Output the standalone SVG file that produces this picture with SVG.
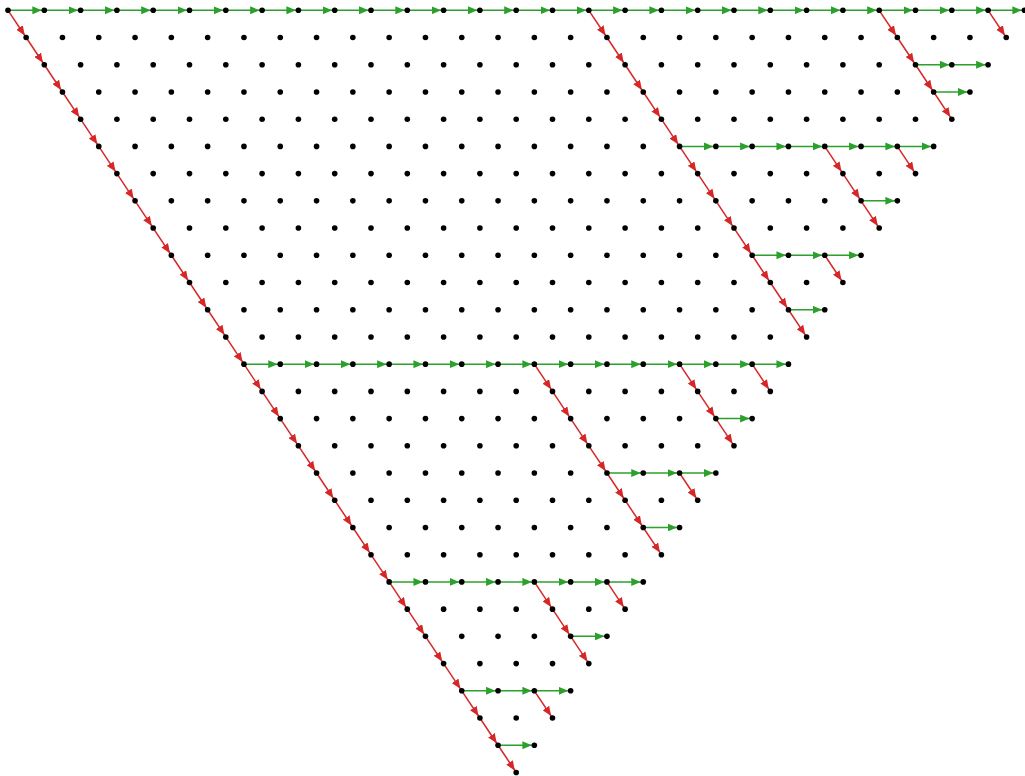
<svg xmlns="http://www.w3.org/2000/svg" width="1025" height="776" viewBox="0 0 1025 776">
<style>
.g{stroke:#2ca02c;stroke-width:1.5;marker-end:url(#ag)}
.r{stroke:#d62728;stroke-width:1.5;marker-end:url(#ar)}
#nodes circle{fill:#000}
</style>
<defs>
<marker id="ag" viewBox="0 0 12 8" refX="12" refY="4" markerWidth="12" markerHeight="8" orient="auto" markerUnits="userSpaceOnUse"><path d="M0 0L9.5 4L0 8z" fill="#2ca02c"/></marker>
<marker id="ar" viewBox="0 0 12 8" refX="12" refY="4" markerWidth="12" markerHeight="8" orient="auto" markerUnits="userSpaceOnUse"><path d="M0 0L9.5 4L0 8z" fill="#d62728"/></marker>
</defs>
<rect width="1025" height="776" fill="#fff"/>
<g id="connectors">
<line class="g" x1="8" y1="10.3" x2="44.3" y2="10.3"/>
<line class="g" x1="44.3" y1="10.3" x2="80.6" y2="10.3"/>
<line class="g" x1="80.6" y1="10.3" x2="116.9" y2="10.3"/>
<line class="g" x1="116.9" y1="10.3" x2="153.2" y2="10.3"/>
<line class="g" x1="153.2" y1="10.3" x2="189.5" y2="10.3"/>
<line class="g" x1="189.5" y1="10.3" x2="225.8" y2="10.3"/>
<line class="g" x1="225.8" y1="10.3" x2="262.1" y2="10.3"/>
<line class="g" x1="262.1" y1="10.3" x2="298.4" y2="10.3"/>
<line class="g" x1="298.4" y1="10.3" x2="334.7" y2="10.3"/>
<line class="g" x1="334.7" y1="10.3" x2="371" y2="10.3"/>
<line class="g" x1="371" y1="10.3" x2="407.3" y2="10.3"/>
<line class="g" x1="407.3" y1="10.3" x2="443.6" y2="10.3"/>
<line class="g" x1="443.6" y1="10.3" x2="479.9" y2="10.3"/>
<line class="g" x1="479.9" y1="10.3" x2="516.2" y2="10.3"/>
<line class="g" x1="516.2" y1="10.3" x2="552.5" y2="10.3"/>
<line class="g" x1="552.5" y1="10.3" x2="588.8" y2="10.3"/>
<line class="g" x1="588.8" y1="10.3" x2="625.1" y2="10.3"/>
<line class="g" x1="625.1" y1="10.3" x2="661.4" y2="10.3"/>
<line class="g" x1="661.4" y1="10.3" x2="697.7" y2="10.3"/>
<line class="g" x1="697.7" y1="10.3" x2="734" y2="10.3"/>
<line class="g" x1="734" y1="10.3" x2="770.3" y2="10.3"/>
<line class="g" x1="770.3" y1="10.3" x2="806.6" y2="10.3"/>
<line class="g" x1="806.6" y1="10.3" x2="842.9" y2="10.3"/>
<line class="g" x1="842.9" y1="10.3" x2="879.2" y2="10.3"/>
<line class="g" x1="879.2" y1="10.3" x2="915.5" y2="10.3"/>
<line class="g" x1="915.5" y1="10.3" x2="951.8" y2="10.3"/>
<line class="g" x1="951.8" y1="10.3" x2="988.1" y2="10.3"/>
<line class="g" x1="988.1" y1="10.3" x2="1024.4" y2="10.3"/>
<line class="g" x1="243.95" y1="364.16" x2="280.25" y2="364.16"/>
<line class="g" x1="280.25" y1="364.16" x2="316.55" y2="364.16"/>
<line class="g" x1="316.55" y1="364.16" x2="352.85" y2="364.16"/>
<line class="g" x1="352.85" y1="364.16" x2="389.15" y2="364.16"/>
<line class="g" x1="389.15" y1="364.16" x2="425.45" y2="364.16"/>
<line class="g" x1="425.45" y1="364.16" x2="461.75" y2="364.16"/>
<line class="g" x1="461.75" y1="364.16" x2="498.05" y2="364.16"/>
<line class="g" x1="498.05" y1="364.16" x2="534.35" y2="364.16"/>
<line class="g" x1="534.35" y1="364.16" x2="570.65" y2="364.16"/>
<line class="g" x1="570.65" y1="364.16" x2="606.95" y2="364.16"/>
<line class="g" x1="606.95" y1="364.16" x2="643.25" y2="364.16"/>
<line class="g" x1="643.25" y1="364.16" x2="679.55" y2="364.16"/>
<line class="g" x1="679.55" y1="364.16" x2="715.85" y2="364.16"/>
<line class="g" x1="715.85" y1="364.16" x2="752.15" y2="364.16"/>
<line class="g" x1="752.15" y1="364.16" x2="788.45" y2="364.16"/>
<line class="g" x1="389.15" y1="581.92" x2="425.45" y2="581.92"/>
<line class="g" x1="425.45" y1="581.92" x2="461.75" y2="581.92"/>
<line class="g" x1="461.75" y1="581.92" x2="498.05" y2="581.92"/>
<line class="g" x1="498.05" y1="581.92" x2="534.35" y2="581.92"/>
<line class="g" x1="534.35" y1="581.92" x2="570.65" y2="581.92"/>
<line class="g" x1="570.65" y1="581.92" x2="606.95" y2="581.92"/>
<line class="g" x1="606.95" y1="581.92" x2="643.25" y2="581.92"/>
<line class="g" x1="461.75" y1="690.8" x2="498.05" y2="690.8"/>
<line class="g" x1="498.05" y1="690.8" x2="534.35" y2="690.8"/>
<line class="g" x1="534.35" y1="690.8" x2="570.65" y2="690.8"/>
<line class="g" x1="498.05" y1="745.24" x2="534.35" y2="745.24"/>
<line class="g" x1="570.65" y1="636.36" x2="606.95" y2="636.36"/>
<line class="g" x1="606.95" y1="473.04" x2="643.25" y2="473.04"/>
<line class="g" x1="643.25" y1="473.04" x2="679.55" y2="473.04"/>
<line class="g" x1="679.55" y1="473.04" x2="715.85" y2="473.04"/>
<line class="g" x1="643.25" y1="527.48" x2="679.55" y2="527.48"/>
<line class="g" x1="715.85" y1="418.6" x2="752.15" y2="418.6"/>
<line class="g" x1="679.55" y1="146.4" x2="715.85" y2="146.4"/>
<line class="g" x1="715.85" y1="146.4" x2="752.15" y2="146.4"/>
<line class="g" x1="752.15" y1="146.4" x2="788.45" y2="146.4"/>
<line class="g" x1="788.45" y1="146.4" x2="824.75" y2="146.4"/>
<line class="g" x1="824.75" y1="146.4" x2="861.05" y2="146.4"/>
<line class="g" x1="861.05" y1="146.4" x2="897.35" y2="146.4"/>
<line class="g" x1="897.35" y1="146.4" x2="933.65" y2="146.4"/>
<line class="g" x1="752.15" y1="255.28" x2="788.45" y2="255.28"/>
<line class="g" x1="788.45" y1="255.28" x2="824.75" y2="255.28"/>
<line class="g" x1="824.75" y1="255.28" x2="861.05" y2="255.28"/>
<line class="g" x1="788.45" y1="309.72" x2="824.75" y2="309.72"/>
<line class="g" x1="861.05" y1="200.84" x2="897.35" y2="200.84"/>
<line class="g" x1="915.5" y1="64.74" x2="951.8" y2="64.74"/>
<line class="g" x1="951.8" y1="64.74" x2="988.1" y2="64.74"/>
<line class="g" x1="933.65" y1="91.96" x2="969.95" y2="91.96"/>
<line class="r" x1="8" y1="10.3" x2="26.15" y2="37.52"/>
<line class="r" x1="26.15" y1="37.52" x2="44.3" y2="64.74"/>
<line class="r" x1="44.3" y1="64.74" x2="62.45" y2="91.96"/>
<line class="r" x1="62.45" y1="91.96" x2="80.6" y2="119.18"/>
<line class="r" x1="80.6" y1="119.18" x2="98.75" y2="146.4"/>
<line class="r" x1="98.75" y1="146.4" x2="116.9" y2="173.62"/>
<line class="r" x1="116.9" y1="173.62" x2="135.05" y2="200.84"/>
<line class="r" x1="135.05" y1="200.84" x2="153.2" y2="228.06"/>
<line class="r" x1="153.2" y1="228.06" x2="171.35" y2="255.28"/>
<line class="r" x1="171.35" y1="255.28" x2="189.5" y2="282.5"/>
<line class="r" x1="189.5" y1="282.5" x2="207.65" y2="309.72"/>
<line class="r" x1="207.65" y1="309.72" x2="225.8" y2="336.94"/>
<line class="r" x1="225.8" y1="336.94" x2="243.95" y2="364.16"/>
<line class="r" x1="243.95" y1="364.16" x2="262.1" y2="391.38"/>
<line class="r" x1="262.1" y1="391.38" x2="280.25" y2="418.6"/>
<line class="r" x1="280.25" y1="418.6" x2="298.4" y2="445.82"/>
<line class="r" x1="298.4" y1="445.82" x2="316.55" y2="473.04"/>
<line class="r" x1="316.55" y1="473.04" x2="334.7" y2="500.26"/>
<line class="r" x1="334.7" y1="500.26" x2="352.85" y2="527.48"/>
<line class="r" x1="352.85" y1="527.48" x2="371" y2="554.7"/>
<line class="r" x1="371" y1="554.7" x2="389.15" y2="581.92"/>
<line class="r" x1="389.15" y1="581.92" x2="407.3" y2="609.14"/>
<line class="r" x1="407.3" y1="609.14" x2="425.45" y2="636.36"/>
<line class="r" x1="425.45" y1="636.36" x2="443.6" y2="663.58"/>
<line class="r" x1="443.6" y1="663.58" x2="461.75" y2="690.8"/>
<line class="r" x1="461.75" y1="690.8" x2="479.9" y2="718.02"/>
<line class="r" x1="479.9" y1="718.02" x2="498.05" y2="745.24"/>
<line class="r" x1="498.05" y1="745.24" x2="516.2" y2="772.46"/>
<line class="r" x1="534.35" y1="690.8" x2="552.5" y2="718.02"/>
<line class="r" x1="534.35" y1="581.92" x2="552.5" y2="609.14"/>
<line class="r" x1="552.5" y1="609.14" x2="570.65" y2="636.36"/>
<line class="r" x1="570.65" y1="636.36" x2="588.8" y2="663.58"/>
<line class="r" x1="606.95" y1="581.92" x2="625.1" y2="609.14"/>
<line class="r" x1="534.35" y1="364.16" x2="552.5" y2="391.38"/>
<line class="r" x1="552.5" y1="391.38" x2="570.65" y2="418.6"/>
<line class="r" x1="570.65" y1="418.6" x2="588.8" y2="445.82"/>
<line class="r" x1="588.8" y1="445.82" x2="606.95" y2="473.04"/>
<line class="r" x1="606.95" y1="473.04" x2="625.1" y2="500.26"/>
<line class="r" x1="625.1" y1="500.26" x2="643.25" y2="527.48"/>
<line class="r" x1="643.25" y1="527.48" x2="661.4" y2="554.7"/>
<line class="r" x1="679.55" y1="473.04" x2="697.7" y2="500.26"/>
<line class="r" x1="679.55" y1="364.16" x2="697.7" y2="391.38"/>
<line class="r" x1="697.7" y1="391.38" x2="715.85" y2="418.6"/>
<line class="r" x1="715.85" y1="418.6" x2="734" y2="445.82"/>
<line class="r" x1="752.15" y1="364.16" x2="770.3" y2="391.38"/>
<line class="r" x1="588.8" y1="10.3" x2="606.95" y2="37.52"/>
<line class="r" x1="606.95" y1="37.52" x2="625.1" y2="64.74"/>
<line class="r" x1="625.1" y1="64.74" x2="643.25" y2="91.96"/>
<line class="r" x1="643.25" y1="91.96" x2="661.4" y2="119.18"/>
<line class="r" x1="661.4" y1="119.18" x2="679.55" y2="146.4"/>
<line class="r" x1="679.55" y1="146.4" x2="697.7" y2="173.62"/>
<line class="r" x1="697.7" y1="173.62" x2="715.85" y2="200.84"/>
<line class="r" x1="715.85" y1="200.84" x2="734" y2="228.06"/>
<line class="r" x1="734" y1="228.06" x2="752.15" y2="255.28"/>
<line class="r" x1="752.15" y1="255.28" x2="770.3" y2="282.5"/>
<line class="r" x1="770.3" y1="282.5" x2="788.45" y2="309.72"/>
<line class="r" x1="788.45" y1="309.72" x2="806.6" y2="336.94"/>
<line class="r" x1="824.75" y1="255.28" x2="842.9" y2="282.5"/>
<line class="r" x1="824.75" y1="146.4" x2="842.9" y2="173.62"/>
<line class="r" x1="842.9" y1="173.62" x2="861.05" y2="200.84"/>
<line class="r" x1="861.05" y1="200.84" x2="879.2" y2="228.06"/>
<line class="r" x1="897.35" y1="146.4" x2="915.5" y2="173.62"/>
<line class="r" x1="879.2" y1="10.3" x2="897.35" y2="37.52"/>
<line class="r" x1="897.35" y1="37.52" x2="915.5" y2="64.74"/>
<line class="r" x1="915.5" y1="64.74" x2="933.65" y2="91.96"/>
<line class="r" x1="933.65" y1="91.96" x2="951.8" y2="119.18"/>
<line class="r" x1="988.1" y1="10.3" x2="1006.25" y2="37.52"/>
</g>
<g id="nodes">
<g id="n0-0"><circle cx="8" cy="10.3" r="2.8"/></g>
<g id="n0-1"><circle cx="44.3" cy="10.3" r="2.8"/></g>
<g id="n0-2"><circle cx="80.6" cy="10.3" r="2.8"/></g>
<g id="n0-3"><circle cx="116.9" cy="10.3" r="2.8"/></g>
<g id="n0-4"><circle cx="153.2" cy="10.3" r="2.8"/></g>
<g id="n0-5"><circle cx="189.5" cy="10.3" r="2.8"/></g>
<g id="n0-6"><circle cx="225.8" cy="10.3" r="2.8"/></g>
<g id="n0-7"><circle cx="262.1" cy="10.3" r="2.8"/></g>
<g id="n0-8"><circle cx="298.4" cy="10.3" r="2.8"/></g>
<g id="n0-9"><circle cx="334.7" cy="10.3" r="2.8"/></g>
<g id="n0-10"><circle cx="371" cy="10.3" r="2.8"/></g>
<g id="n0-11"><circle cx="407.3" cy="10.3" r="2.8"/></g>
<g id="n0-12"><circle cx="443.6" cy="10.3" r="2.8"/></g>
<g id="n0-13"><circle cx="479.9" cy="10.3" r="2.8"/></g>
<g id="n0-14"><circle cx="516.2" cy="10.3" r="2.8"/></g>
<g id="n0-15"><circle cx="552.5" cy="10.3" r="2.8"/></g>
<g id="n0-16"><circle cx="588.8" cy="10.3" r="2.8"/></g>
<g id="n0-17"><circle cx="625.1" cy="10.3" r="2.8"/></g>
<g id="n0-18"><circle cx="661.4" cy="10.3" r="2.8"/></g>
<g id="n0-19"><circle cx="697.7" cy="10.3" r="2.8"/></g>
<g id="n0-20"><circle cx="734" cy="10.3" r="2.8"/></g>
<g id="n0-21"><circle cx="770.3" cy="10.3" r="2.8"/></g>
<g id="n0-22"><circle cx="806.6" cy="10.3" r="2.8"/></g>
<g id="n0-23"><circle cx="842.9" cy="10.3" r="2.8"/></g>
<g id="n0-24"><circle cx="879.2" cy="10.3" r="2.8"/></g>
<g id="n0-25"><circle cx="915.5" cy="10.3" r="2.8"/></g>
<g id="n0-26"><circle cx="951.8" cy="10.3" r="2.8"/></g>
<g id="n0-27"><circle cx="988.1" cy="10.3" r="2.8"/></g>
<g id="n0-28"><circle cx="1024.4" cy="10.3" r="2.8"/></g>
<g id="n1-0"><circle cx="26.15" cy="37.52" r="2.8"/></g>
<g id="n1-1"><circle cx="62.45" cy="37.52" r="2.8"/></g>
<g id="n1-2"><circle cx="98.75" cy="37.52" r="2.8"/></g>
<g id="n1-3"><circle cx="135.05" cy="37.52" r="2.8"/></g>
<g id="n1-4"><circle cx="171.35" cy="37.52" r="2.8"/></g>
<g id="n1-5"><circle cx="207.65" cy="37.52" r="2.8"/></g>
<g id="n1-6"><circle cx="243.95" cy="37.52" r="2.8"/></g>
<g id="n1-7"><circle cx="280.25" cy="37.52" r="2.8"/></g>
<g id="n1-8"><circle cx="316.55" cy="37.52" r="2.8"/></g>
<g id="n1-9"><circle cx="352.85" cy="37.52" r="2.8"/></g>
<g id="n1-10"><circle cx="389.15" cy="37.52" r="2.8"/></g>
<g id="n1-11"><circle cx="425.45" cy="37.52" r="2.8"/></g>
<g id="n1-12"><circle cx="461.75" cy="37.52" r="2.8"/></g>
<g id="n1-13"><circle cx="498.05" cy="37.52" r="2.8"/></g>
<g id="n1-14"><circle cx="534.35" cy="37.52" r="2.8"/></g>
<g id="n1-15"><circle cx="570.65" cy="37.52" r="2.8"/></g>
<g id="n1-16"><circle cx="606.95" cy="37.52" r="2.8"/></g>
<g id="n1-17"><circle cx="643.25" cy="37.52" r="2.8"/></g>
<g id="n1-18"><circle cx="679.55" cy="37.52" r="2.8"/></g>
<g id="n1-19"><circle cx="715.85" cy="37.52" r="2.8"/></g>
<g id="n1-20"><circle cx="752.15" cy="37.52" r="2.8"/></g>
<g id="n1-21"><circle cx="788.45" cy="37.52" r="2.8"/></g>
<g id="n1-22"><circle cx="824.75" cy="37.52" r="2.8"/></g>
<g id="n1-23"><circle cx="861.05" cy="37.52" r="2.8"/></g>
<g id="n1-24"><circle cx="897.35" cy="37.52" r="2.8"/></g>
<g id="n1-25"><circle cx="933.65" cy="37.52" r="2.8"/></g>
<g id="n1-26"><circle cx="969.95" cy="37.52" r="2.8"/></g>
<g id="n1-27"><circle cx="1006.25" cy="37.52" r="2.8"/></g>
<g id="n2-0"><circle cx="44.3" cy="64.74" r="2.8"/></g>
<g id="n2-1"><circle cx="80.6" cy="64.74" r="2.8"/></g>
<g id="n2-2"><circle cx="116.9" cy="64.74" r="2.8"/></g>
<g id="n2-3"><circle cx="153.2" cy="64.74" r="2.8"/></g>
<g id="n2-4"><circle cx="189.5" cy="64.74" r="2.8"/></g>
<g id="n2-5"><circle cx="225.8" cy="64.74" r="2.8"/></g>
<g id="n2-6"><circle cx="262.1" cy="64.74" r="2.8"/></g>
<g id="n2-7"><circle cx="298.4" cy="64.74" r="2.8"/></g>
<g id="n2-8"><circle cx="334.7" cy="64.74" r="2.8"/></g>
<g id="n2-9"><circle cx="371" cy="64.74" r="2.8"/></g>
<g id="n2-10"><circle cx="407.3" cy="64.74" r="2.8"/></g>
<g id="n2-11"><circle cx="443.6" cy="64.74" r="2.8"/></g>
<g id="n2-12"><circle cx="479.9" cy="64.74" r="2.8"/></g>
<g id="n2-13"><circle cx="516.2" cy="64.74" r="2.8"/></g>
<g id="n2-14"><circle cx="552.5" cy="64.74" r="2.8"/></g>
<g id="n2-15"><circle cx="588.8" cy="64.74" r="2.8"/></g>
<g id="n2-16"><circle cx="625.1" cy="64.74" r="2.8"/></g>
<g id="n2-17"><circle cx="661.4" cy="64.74" r="2.8"/></g>
<g id="n2-18"><circle cx="697.7" cy="64.74" r="2.8"/></g>
<g id="n2-19"><circle cx="734" cy="64.74" r="2.8"/></g>
<g id="n2-20"><circle cx="770.3" cy="64.74" r="2.8"/></g>
<g id="n2-21"><circle cx="806.6" cy="64.74" r="2.8"/></g>
<g id="n2-22"><circle cx="842.9" cy="64.74" r="2.8"/></g>
<g id="n2-23"><circle cx="879.2" cy="64.74" r="2.8"/></g>
<g id="n2-24"><circle cx="915.5" cy="64.74" r="2.8"/></g>
<g id="n2-25"><circle cx="951.8" cy="64.74" r="2.8"/></g>
<g id="n2-26"><circle cx="988.1" cy="64.74" r="2.8"/></g>
<g id="n3-0"><circle cx="62.45" cy="91.96" r="2.8"/></g>
<g id="n3-1"><circle cx="98.75" cy="91.96" r="2.8"/></g>
<g id="n3-2"><circle cx="135.05" cy="91.96" r="2.8"/></g>
<g id="n3-3"><circle cx="171.35" cy="91.96" r="2.8"/></g>
<g id="n3-4"><circle cx="207.65" cy="91.96" r="2.8"/></g>
<g id="n3-5"><circle cx="243.95" cy="91.96" r="2.8"/></g>
<g id="n3-6"><circle cx="280.25" cy="91.96" r="2.8"/></g>
<g id="n3-7"><circle cx="316.55" cy="91.96" r="2.8"/></g>
<g id="n3-8"><circle cx="352.85" cy="91.96" r="2.8"/></g>
<g id="n3-9"><circle cx="389.15" cy="91.96" r="2.8"/></g>
<g id="n3-10"><circle cx="425.45" cy="91.96" r="2.8"/></g>
<g id="n3-11"><circle cx="461.75" cy="91.96" r="2.8"/></g>
<g id="n3-12"><circle cx="498.05" cy="91.96" r="2.8"/></g>
<g id="n3-13"><circle cx="534.35" cy="91.96" r="2.8"/></g>
<g id="n3-14"><circle cx="570.65" cy="91.96" r="2.8"/></g>
<g id="n3-15"><circle cx="606.95" cy="91.96" r="2.8"/></g>
<g id="n3-16"><circle cx="643.25" cy="91.96" r="2.8"/></g>
<g id="n3-17"><circle cx="679.55" cy="91.96" r="2.8"/></g>
<g id="n3-18"><circle cx="715.85" cy="91.96" r="2.8"/></g>
<g id="n3-19"><circle cx="752.15" cy="91.96" r="2.8"/></g>
<g id="n3-20"><circle cx="788.45" cy="91.96" r="2.8"/></g>
<g id="n3-21"><circle cx="824.75" cy="91.96" r="2.8"/></g>
<g id="n3-22"><circle cx="861.05" cy="91.96" r="2.8"/></g>
<g id="n3-23"><circle cx="897.35" cy="91.96" r="2.8"/></g>
<g id="n3-24"><circle cx="933.65" cy="91.96" r="2.8"/></g>
<g id="n3-25"><circle cx="969.95" cy="91.96" r="2.8"/></g>
<g id="n4-0"><circle cx="80.6" cy="119.18" r="2.8"/></g>
<g id="n4-1"><circle cx="116.9" cy="119.18" r="2.8"/></g>
<g id="n4-2"><circle cx="153.2" cy="119.18" r="2.8"/></g>
<g id="n4-3"><circle cx="189.5" cy="119.18" r="2.8"/></g>
<g id="n4-4"><circle cx="225.8" cy="119.18" r="2.8"/></g>
<g id="n4-5"><circle cx="262.1" cy="119.18" r="2.8"/></g>
<g id="n4-6"><circle cx="298.4" cy="119.18" r="2.8"/></g>
<g id="n4-7"><circle cx="334.7" cy="119.18" r="2.8"/></g>
<g id="n4-8"><circle cx="371" cy="119.18" r="2.8"/></g>
<g id="n4-9"><circle cx="407.3" cy="119.18" r="2.8"/></g>
<g id="n4-10"><circle cx="443.6" cy="119.18" r="2.8"/></g>
<g id="n4-11"><circle cx="479.9" cy="119.18" r="2.8"/></g>
<g id="n4-12"><circle cx="516.2" cy="119.18" r="2.8"/></g>
<g id="n4-13"><circle cx="552.5" cy="119.18" r="2.8"/></g>
<g id="n4-14"><circle cx="588.8" cy="119.18" r="2.8"/></g>
<g id="n4-15"><circle cx="625.1" cy="119.18" r="2.8"/></g>
<g id="n4-16"><circle cx="661.4" cy="119.18" r="2.8"/></g>
<g id="n4-17"><circle cx="697.7" cy="119.18" r="2.8"/></g>
<g id="n4-18"><circle cx="734" cy="119.18" r="2.8"/></g>
<g id="n4-19"><circle cx="770.3" cy="119.18" r="2.8"/></g>
<g id="n4-20"><circle cx="806.6" cy="119.18" r="2.8"/></g>
<g id="n4-21"><circle cx="842.9" cy="119.18" r="2.8"/></g>
<g id="n4-22"><circle cx="879.2" cy="119.18" r="2.8"/></g>
<g id="n4-23"><circle cx="915.5" cy="119.18" r="2.8"/></g>
<g id="n4-24"><circle cx="951.8" cy="119.18" r="2.8"/></g>
<g id="n5-0"><circle cx="98.75" cy="146.4" r="2.8"/></g>
<g id="n5-1"><circle cx="135.05" cy="146.4" r="2.8"/></g>
<g id="n5-2"><circle cx="171.35" cy="146.4" r="2.8"/></g>
<g id="n5-3"><circle cx="207.65" cy="146.4" r="2.8"/></g>
<g id="n5-4"><circle cx="243.95" cy="146.4" r="2.8"/></g>
<g id="n5-5"><circle cx="280.25" cy="146.4" r="2.8"/></g>
<g id="n5-6"><circle cx="316.55" cy="146.4" r="2.8"/></g>
<g id="n5-7"><circle cx="352.85" cy="146.4" r="2.8"/></g>
<g id="n5-8"><circle cx="389.15" cy="146.4" r="2.8"/></g>
<g id="n5-9"><circle cx="425.45" cy="146.4" r="2.8"/></g>
<g id="n5-10"><circle cx="461.75" cy="146.4" r="2.8"/></g>
<g id="n5-11"><circle cx="498.05" cy="146.4" r="2.8"/></g>
<g id="n5-12"><circle cx="534.35" cy="146.4" r="2.8"/></g>
<g id="n5-13"><circle cx="570.65" cy="146.4" r="2.8"/></g>
<g id="n5-14"><circle cx="606.95" cy="146.4" r="2.8"/></g>
<g id="n5-15"><circle cx="643.25" cy="146.4" r="2.8"/></g>
<g id="n5-16"><circle cx="679.55" cy="146.4" r="2.8"/></g>
<g id="n5-17"><circle cx="715.85" cy="146.4" r="2.8"/></g>
<g id="n5-18"><circle cx="752.15" cy="146.4" r="2.8"/></g>
<g id="n5-19"><circle cx="788.45" cy="146.4" r="2.8"/></g>
<g id="n5-20"><circle cx="824.75" cy="146.4" r="2.8"/></g>
<g id="n5-21"><circle cx="861.05" cy="146.4" r="2.8"/></g>
<g id="n5-22"><circle cx="897.35" cy="146.4" r="2.8"/></g>
<g id="n5-23"><circle cx="933.65" cy="146.4" r="2.8"/></g>
<g id="n6-0"><circle cx="116.9" cy="173.62" r="2.8"/></g>
<g id="n6-1"><circle cx="153.2" cy="173.62" r="2.8"/></g>
<g id="n6-2"><circle cx="189.5" cy="173.62" r="2.8"/></g>
<g id="n6-3"><circle cx="225.8" cy="173.62" r="2.8"/></g>
<g id="n6-4"><circle cx="262.1" cy="173.62" r="2.8"/></g>
<g id="n6-5"><circle cx="298.4" cy="173.62" r="2.8"/></g>
<g id="n6-6"><circle cx="334.7" cy="173.62" r="2.8"/></g>
<g id="n6-7"><circle cx="371" cy="173.62" r="2.8"/></g>
<g id="n6-8"><circle cx="407.3" cy="173.62" r="2.8"/></g>
<g id="n6-9"><circle cx="443.6" cy="173.62" r="2.8"/></g>
<g id="n6-10"><circle cx="479.9" cy="173.62" r="2.8"/></g>
<g id="n6-11"><circle cx="516.2" cy="173.62" r="2.8"/></g>
<g id="n6-12"><circle cx="552.5" cy="173.62" r="2.8"/></g>
<g id="n6-13"><circle cx="588.8" cy="173.62" r="2.8"/></g>
<g id="n6-14"><circle cx="625.1" cy="173.62" r="2.8"/></g>
<g id="n6-15"><circle cx="661.4" cy="173.62" r="2.8"/></g>
<g id="n6-16"><circle cx="697.7" cy="173.62" r="2.8"/></g>
<g id="n6-17"><circle cx="734" cy="173.62" r="2.8"/></g>
<g id="n6-18"><circle cx="770.3" cy="173.62" r="2.8"/></g>
<g id="n6-19"><circle cx="806.6" cy="173.62" r="2.8"/></g>
<g id="n6-20"><circle cx="842.9" cy="173.62" r="2.8"/></g>
<g id="n6-21"><circle cx="879.2" cy="173.62" r="2.8"/></g>
<g id="n6-22"><circle cx="915.5" cy="173.62" r="2.8"/></g>
<g id="n7-0"><circle cx="135.05" cy="200.84" r="2.8"/></g>
<g id="n7-1"><circle cx="171.35" cy="200.84" r="2.8"/></g>
<g id="n7-2"><circle cx="207.65" cy="200.84" r="2.8"/></g>
<g id="n7-3"><circle cx="243.95" cy="200.84" r="2.8"/></g>
<g id="n7-4"><circle cx="280.25" cy="200.84" r="2.8"/></g>
<g id="n7-5"><circle cx="316.55" cy="200.84" r="2.8"/></g>
<g id="n7-6"><circle cx="352.85" cy="200.84" r="2.8"/></g>
<g id="n7-7"><circle cx="389.15" cy="200.84" r="2.8"/></g>
<g id="n7-8"><circle cx="425.45" cy="200.84" r="2.8"/></g>
<g id="n7-9"><circle cx="461.75" cy="200.84" r="2.8"/></g>
<g id="n7-10"><circle cx="498.05" cy="200.84" r="2.8"/></g>
<g id="n7-11"><circle cx="534.35" cy="200.84" r="2.8"/></g>
<g id="n7-12"><circle cx="570.65" cy="200.84" r="2.8"/></g>
<g id="n7-13"><circle cx="606.95" cy="200.84" r="2.8"/></g>
<g id="n7-14"><circle cx="643.25" cy="200.84" r="2.8"/></g>
<g id="n7-15"><circle cx="679.55" cy="200.84" r="2.8"/></g>
<g id="n7-16"><circle cx="715.85" cy="200.84" r="2.8"/></g>
<g id="n7-17"><circle cx="752.15" cy="200.84" r="2.8"/></g>
<g id="n7-18"><circle cx="788.45" cy="200.84" r="2.8"/></g>
<g id="n7-19"><circle cx="824.75" cy="200.84" r="2.8"/></g>
<g id="n7-20"><circle cx="861.05" cy="200.84" r="2.8"/></g>
<g id="n7-21"><circle cx="897.35" cy="200.84" r="2.8"/></g>
<g id="n8-0"><circle cx="153.2" cy="228.06" r="2.8"/></g>
<g id="n8-1"><circle cx="189.5" cy="228.06" r="2.8"/></g>
<g id="n8-2"><circle cx="225.8" cy="228.06" r="2.8"/></g>
<g id="n8-3"><circle cx="262.1" cy="228.06" r="2.8"/></g>
<g id="n8-4"><circle cx="298.4" cy="228.06" r="2.8"/></g>
<g id="n8-5"><circle cx="334.7" cy="228.06" r="2.8"/></g>
<g id="n8-6"><circle cx="371" cy="228.06" r="2.8"/></g>
<g id="n8-7"><circle cx="407.3" cy="228.06" r="2.8"/></g>
<g id="n8-8"><circle cx="443.6" cy="228.06" r="2.8"/></g>
<g id="n8-9"><circle cx="479.9" cy="228.06" r="2.8"/></g>
<g id="n8-10"><circle cx="516.2" cy="228.06" r="2.8"/></g>
<g id="n8-11"><circle cx="552.5" cy="228.06" r="2.8"/></g>
<g id="n8-12"><circle cx="588.8" cy="228.06" r="2.8"/></g>
<g id="n8-13"><circle cx="625.1" cy="228.06" r="2.8"/></g>
<g id="n8-14"><circle cx="661.4" cy="228.06" r="2.8"/></g>
<g id="n8-15"><circle cx="697.7" cy="228.06" r="2.8"/></g>
<g id="n8-16"><circle cx="734" cy="228.06" r="2.8"/></g>
<g id="n8-17"><circle cx="770.3" cy="228.06" r="2.8"/></g>
<g id="n8-18"><circle cx="806.6" cy="228.06" r="2.8"/></g>
<g id="n8-19"><circle cx="842.9" cy="228.06" r="2.8"/></g>
<g id="n8-20"><circle cx="879.2" cy="228.06" r="2.8"/></g>
<g id="n9-0"><circle cx="171.35" cy="255.28" r="2.8"/></g>
<g id="n9-1"><circle cx="207.65" cy="255.28" r="2.8"/></g>
<g id="n9-2"><circle cx="243.95" cy="255.28" r="2.8"/></g>
<g id="n9-3"><circle cx="280.25" cy="255.28" r="2.8"/></g>
<g id="n9-4"><circle cx="316.55" cy="255.28" r="2.8"/></g>
<g id="n9-5"><circle cx="352.85" cy="255.28" r="2.8"/></g>
<g id="n9-6"><circle cx="389.15" cy="255.28" r="2.8"/></g>
<g id="n9-7"><circle cx="425.45" cy="255.28" r="2.8"/></g>
<g id="n9-8"><circle cx="461.75" cy="255.28" r="2.8"/></g>
<g id="n9-9"><circle cx="498.05" cy="255.28" r="2.8"/></g>
<g id="n9-10"><circle cx="534.35" cy="255.28" r="2.8"/></g>
<g id="n9-11"><circle cx="570.65" cy="255.28" r="2.8"/></g>
<g id="n9-12"><circle cx="606.95" cy="255.28" r="2.8"/></g>
<g id="n9-13"><circle cx="643.25" cy="255.28" r="2.8"/></g>
<g id="n9-14"><circle cx="679.55" cy="255.28" r="2.8"/></g>
<g id="n9-15"><circle cx="715.85" cy="255.28" r="2.8"/></g>
<g id="n9-16"><circle cx="752.15" cy="255.28" r="2.8"/></g>
<g id="n9-17"><circle cx="788.45" cy="255.28" r="2.8"/></g>
<g id="n9-18"><circle cx="824.75" cy="255.28" r="2.8"/></g>
<g id="n9-19"><circle cx="861.05" cy="255.28" r="2.8"/></g>
<g id="n10-0"><circle cx="189.5" cy="282.5" r="2.8"/></g>
<g id="n10-1"><circle cx="225.8" cy="282.5" r="2.8"/></g>
<g id="n10-2"><circle cx="262.1" cy="282.5" r="2.8"/></g>
<g id="n10-3"><circle cx="298.4" cy="282.5" r="2.8"/></g>
<g id="n10-4"><circle cx="334.7" cy="282.5" r="2.8"/></g>
<g id="n10-5"><circle cx="371" cy="282.5" r="2.8"/></g>
<g id="n10-6"><circle cx="407.3" cy="282.5" r="2.8"/></g>
<g id="n10-7"><circle cx="443.6" cy="282.5" r="2.8"/></g>
<g id="n10-8"><circle cx="479.9" cy="282.5" r="2.8"/></g>
<g id="n10-9"><circle cx="516.2" cy="282.5" r="2.8"/></g>
<g id="n10-10"><circle cx="552.5" cy="282.5" r="2.8"/></g>
<g id="n10-11"><circle cx="588.8" cy="282.5" r="2.8"/></g>
<g id="n10-12"><circle cx="625.1" cy="282.5" r="2.8"/></g>
<g id="n10-13"><circle cx="661.4" cy="282.5" r="2.8"/></g>
<g id="n10-14"><circle cx="697.7" cy="282.5" r="2.8"/></g>
<g id="n10-15"><circle cx="734" cy="282.5" r="2.8"/></g>
<g id="n10-16"><circle cx="770.3" cy="282.5" r="2.8"/></g>
<g id="n10-17"><circle cx="806.6" cy="282.5" r="2.8"/></g>
<g id="n10-18"><circle cx="842.9" cy="282.5" r="2.8"/></g>
<g id="n11-0"><circle cx="207.65" cy="309.72" r="2.8"/></g>
<g id="n11-1"><circle cx="243.95" cy="309.72" r="2.8"/></g>
<g id="n11-2"><circle cx="280.25" cy="309.72" r="2.8"/></g>
<g id="n11-3"><circle cx="316.55" cy="309.72" r="2.8"/></g>
<g id="n11-4"><circle cx="352.85" cy="309.72" r="2.8"/></g>
<g id="n11-5"><circle cx="389.15" cy="309.72" r="2.8"/></g>
<g id="n11-6"><circle cx="425.45" cy="309.72" r="2.8"/></g>
<g id="n11-7"><circle cx="461.75" cy="309.72" r="2.8"/></g>
<g id="n11-8"><circle cx="498.05" cy="309.72" r="2.8"/></g>
<g id="n11-9"><circle cx="534.35" cy="309.72" r="2.8"/></g>
<g id="n11-10"><circle cx="570.65" cy="309.72" r="2.8"/></g>
<g id="n11-11"><circle cx="606.95" cy="309.72" r="2.8"/></g>
<g id="n11-12"><circle cx="643.25" cy="309.72" r="2.8"/></g>
<g id="n11-13"><circle cx="679.55" cy="309.72" r="2.8"/></g>
<g id="n11-14"><circle cx="715.85" cy="309.72" r="2.8"/></g>
<g id="n11-15"><circle cx="752.15" cy="309.72" r="2.8"/></g>
<g id="n11-16"><circle cx="788.45" cy="309.72" r="2.8"/></g>
<g id="n11-17"><circle cx="824.75" cy="309.72" r="2.8"/></g>
<g id="n12-0"><circle cx="225.8" cy="336.94" r="2.8"/></g>
<g id="n12-1"><circle cx="262.1" cy="336.94" r="2.8"/></g>
<g id="n12-2"><circle cx="298.4" cy="336.94" r="2.8"/></g>
<g id="n12-3"><circle cx="334.7" cy="336.94" r="2.8"/></g>
<g id="n12-4"><circle cx="371" cy="336.94" r="2.8"/></g>
<g id="n12-5"><circle cx="407.3" cy="336.94" r="2.8"/></g>
<g id="n12-6"><circle cx="443.6" cy="336.94" r="2.8"/></g>
<g id="n12-7"><circle cx="479.9" cy="336.94" r="2.8"/></g>
<g id="n12-8"><circle cx="516.2" cy="336.94" r="2.8"/></g>
<g id="n12-9"><circle cx="552.5" cy="336.94" r="2.8"/></g>
<g id="n12-10"><circle cx="588.8" cy="336.94" r="2.8"/></g>
<g id="n12-11"><circle cx="625.1" cy="336.94" r="2.8"/></g>
<g id="n12-12"><circle cx="661.4" cy="336.94" r="2.8"/></g>
<g id="n12-13"><circle cx="697.7" cy="336.94" r="2.8"/></g>
<g id="n12-14"><circle cx="734" cy="336.94" r="2.8"/></g>
<g id="n12-15"><circle cx="770.3" cy="336.94" r="2.8"/></g>
<g id="n12-16"><circle cx="806.6" cy="336.94" r="2.8"/></g>
<g id="n13-0"><circle cx="243.95" cy="364.16" r="2.8"/></g>
<g id="n13-1"><circle cx="280.25" cy="364.16" r="2.8"/></g>
<g id="n13-2"><circle cx="316.55" cy="364.16" r="2.8"/></g>
<g id="n13-3"><circle cx="352.85" cy="364.16" r="2.8"/></g>
<g id="n13-4"><circle cx="389.15" cy="364.16" r="2.8"/></g>
<g id="n13-5"><circle cx="425.45" cy="364.16" r="2.8"/></g>
<g id="n13-6"><circle cx="461.75" cy="364.16" r="2.8"/></g>
<g id="n13-7"><circle cx="498.05" cy="364.16" r="2.8"/></g>
<g id="n13-8"><circle cx="534.35" cy="364.16" r="2.8"/></g>
<g id="n13-9"><circle cx="570.65" cy="364.16" r="2.8"/></g>
<g id="n13-10"><circle cx="606.95" cy="364.16" r="2.8"/></g>
<g id="n13-11"><circle cx="643.25" cy="364.16" r="2.8"/></g>
<g id="n13-12"><circle cx="679.55" cy="364.16" r="2.8"/></g>
<g id="n13-13"><circle cx="715.85" cy="364.16" r="2.8"/></g>
<g id="n13-14"><circle cx="752.15" cy="364.16" r="2.8"/></g>
<g id="n13-15"><circle cx="788.45" cy="364.16" r="2.8"/></g>
<g id="n14-0"><circle cx="262.1" cy="391.38" r="2.8"/></g>
<g id="n14-1"><circle cx="298.4" cy="391.38" r="2.8"/></g>
<g id="n14-2"><circle cx="334.7" cy="391.38" r="2.8"/></g>
<g id="n14-3"><circle cx="371" cy="391.38" r="2.8"/></g>
<g id="n14-4"><circle cx="407.3" cy="391.38" r="2.8"/></g>
<g id="n14-5"><circle cx="443.6" cy="391.38" r="2.8"/></g>
<g id="n14-6"><circle cx="479.9" cy="391.38" r="2.8"/></g>
<g id="n14-7"><circle cx="516.2" cy="391.38" r="2.8"/></g>
<g id="n14-8"><circle cx="552.5" cy="391.38" r="2.8"/></g>
<g id="n14-9"><circle cx="588.8" cy="391.38" r="2.8"/></g>
<g id="n14-10"><circle cx="625.1" cy="391.38" r="2.8"/></g>
<g id="n14-11"><circle cx="661.4" cy="391.38" r="2.8"/></g>
<g id="n14-12"><circle cx="697.7" cy="391.38" r="2.8"/></g>
<g id="n14-13"><circle cx="734" cy="391.38" r="2.8"/></g>
<g id="n14-14"><circle cx="770.3" cy="391.38" r="2.8"/></g>
<g id="n15-0"><circle cx="280.25" cy="418.6" r="2.8"/></g>
<g id="n15-1"><circle cx="316.55" cy="418.6" r="2.8"/></g>
<g id="n15-2"><circle cx="352.85" cy="418.6" r="2.8"/></g>
<g id="n15-3"><circle cx="389.15" cy="418.6" r="2.8"/></g>
<g id="n15-4"><circle cx="425.45" cy="418.6" r="2.8"/></g>
<g id="n15-5"><circle cx="461.75" cy="418.6" r="2.8"/></g>
<g id="n15-6"><circle cx="498.05" cy="418.6" r="2.8"/></g>
<g id="n15-7"><circle cx="534.35" cy="418.6" r="2.8"/></g>
<g id="n15-8"><circle cx="570.65" cy="418.6" r="2.8"/></g>
<g id="n15-9"><circle cx="606.95" cy="418.6" r="2.8"/></g>
<g id="n15-10"><circle cx="643.25" cy="418.6" r="2.8"/></g>
<g id="n15-11"><circle cx="679.55" cy="418.6" r="2.8"/></g>
<g id="n15-12"><circle cx="715.85" cy="418.6" r="2.8"/></g>
<g id="n15-13"><circle cx="752.15" cy="418.6" r="2.8"/></g>
<g id="n16-0"><circle cx="298.4" cy="445.82" r="2.8"/></g>
<g id="n16-1"><circle cx="334.7" cy="445.82" r="2.8"/></g>
<g id="n16-2"><circle cx="371" cy="445.82" r="2.8"/></g>
<g id="n16-3"><circle cx="407.3" cy="445.82" r="2.8"/></g>
<g id="n16-4"><circle cx="443.6" cy="445.82" r="2.8"/></g>
<g id="n16-5"><circle cx="479.9" cy="445.82" r="2.8"/></g>
<g id="n16-6"><circle cx="516.2" cy="445.82" r="2.8"/></g>
<g id="n16-7"><circle cx="552.5" cy="445.82" r="2.8"/></g>
<g id="n16-8"><circle cx="588.8" cy="445.82" r="2.8"/></g>
<g id="n16-9"><circle cx="625.1" cy="445.82" r="2.8"/></g>
<g id="n16-10"><circle cx="661.4" cy="445.82" r="2.8"/></g>
<g id="n16-11"><circle cx="697.7" cy="445.82" r="2.8"/></g>
<g id="n16-12"><circle cx="734" cy="445.82" r="2.8"/></g>
<g id="n17-0"><circle cx="316.55" cy="473.04" r="2.8"/></g>
<g id="n17-1"><circle cx="352.85" cy="473.04" r="2.8"/></g>
<g id="n17-2"><circle cx="389.15" cy="473.04" r="2.8"/></g>
<g id="n17-3"><circle cx="425.45" cy="473.04" r="2.8"/></g>
<g id="n17-4"><circle cx="461.75" cy="473.04" r="2.8"/></g>
<g id="n17-5"><circle cx="498.05" cy="473.04" r="2.8"/></g>
<g id="n17-6"><circle cx="534.35" cy="473.04" r="2.8"/></g>
<g id="n17-7"><circle cx="570.65" cy="473.04" r="2.8"/></g>
<g id="n17-8"><circle cx="606.95" cy="473.04" r="2.8"/></g>
<g id="n17-9"><circle cx="643.25" cy="473.04" r="2.8"/></g>
<g id="n17-10"><circle cx="679.55" cy="473.04" r="2.8"/></g>
<g id="n17-11"><circle cx="715.85" cy="473.04" r="2.8"/></g>
<g id="n18-0"><circle cx="334.7" cy="500.26" r="2.8"/></g>
<g id="n18-1"><circle cx="371" cy="500.26" r="2.8"/></g>
<g id="n18-2"><circle cx="407.3" cy="500.26" r="2.8"/></g>
<g id="n18-3"><circle cx="443.6" cy="500.26" r="2.8"/></g>
<g id="n18-4"><circle cx="479.9" cy="500.26" r="2.8"/></g>
<g id="n18-5"><circle cx="516.2" cy="500.26" r="2.8"/></g>
<g id="n18-6"><circle cx="552.5" cy="500.26" r="2.8"/></g>
<g id="n18-7"><circle cx="588.8" cy="500.26" r="2.8"/></g>
<g id="n18-8"><circle cx="625.1" cy="500.26" r="2.8"/></g>
<g id="n18-9"><circle cx="661.4" cy="500.26" r="2.8"/></g>
<g id="n18-10"><circle cx="697.7" cy="500.26" r="2.8"/></g>
<g id="n19-0"><circle cx="352.85" cy="527.48" r="2.8"/></g>
<g id="n19-1"><circle cx="389.15" cy="527.48" r="2.8"/></g>
<g id="n19-2"><circle cx="425.45" cy="527.48" r="2.8"/></g>
<g id="n19-3"><circle cx="461.75" cy="527.48" r="2.8"/></g>
<g id="n19-4"><circle cx="498.05" cy="527.48" r="2.8"/></g>
<g id="n19-5"><circle cx="534.35" cy="527.48" r="2.8"/></g>
<g id="n19-6"><circle cx="570.65" cy="527.48" r="2.8"/></g>
<g id="n19-7"><circle cx="606.95" cy="527.48" r="2.8"/></g>
<g id="n19-8"><circle cx="643.25" cy="527.48" r="2.8"/></g>
<g id="n19-9"><circle cx="679.55" cy="527.48" r="2.8"/></g>
<g id="n20-0"><circle cx="371" cy="554.7" r="2.8"/></g>
<g id="n20-1"><circle cx="407.3" cy="554.7" r="2.8"/></g>
<g id="n20-2"><circle cx="443.6" cy="554.7" r="2.8"/></g>
<g id="n20-3"><circle cx="479.9" cy="554.7" r="2.8"/></g>
<g id="n20-4"><circle cx="516.2" cy="554.7" r="2.8"/></g>
<g id="n20-5"><circle cx="552.5" cy="554.7" r="2.8"/></g>
<g id="n20-6"><circle cx="588.8" cy="554.7" r="2.8"/></g>
<g id="n20-7"><circle cx="625.1" cy="554.7" r="2.8"/></g>
<g id="n20-8"><circle cx="661.4" cy="554.7" r="2.8"/></g>
<g id="n21-0"><circle cx="389.15" cy="581.92" r="2.8"/></g>
<g id="n21-1"><circle cx="425.45" cy="581.92" r="2.8"/></g>
<g id="n21-2"><circle cx="461.75" cy="581.92" r="2.8"/></g>
<g id="n21-3"><circle cx="498.05" cy="581.92" r="2.8"/></g>
<g id="n21-4"><circle cx="534.35" cy="581.92" r="2.8"/></g>
<g id="n21-5"><circle cx="570.65" cy="581.92" r="2.8"/></g>
<g id="n21-6"><circle cx="606.95" cy="581.92" r="2.8"/></g>
<g id="n21-7"><circle cx="643.25" cy="581.92" r="2.8"/></g>
<g id="n22-0"><circle cx="407.3" cy="609.14" r="2.8"/></g>
<g id="n22-1"><circle cx="443.6" cy="609.14" r="2.8"/></g>
<g id="n22-2"><circle cx="479.9" cy="609.14" r="2.8"/></g>
<g id="n22-3"><circle cx="516.2" cy="609.14" r="2.8"/></g>
<g id="n22-4"><circle cx="552.5" cy="609.14" r="2.8"/></g>
<g id="n22-5"><circle cx="588.8" cy="609.14" r="2.8"/></g>
<g id="n22-6"><circle cx="625.1" cy="609.14" r="2.8"/></g>
<g id="n23-0"><circle cx="425.45" cy="636.36" r="2.8"/></g>
<g id="n23-1"><circle cx="461.75" cy="636.36" r="2.8"/></g>
<g id="n23-2"><circle cx="498.05" cy="636.36" r="2.8"/></g>
<g id="n23-3"><circle cx="534.35" cy="636.36" r="2.8"/></g>
<g id="n23-4"><circle cx="570.65" cy="636.36" r="2.8"/></g>
<g id="n23-5"><circle cx="606.95" cy="636.36" r="2.8"/></g>
<g id="n24-0"><circle cx="443.6" cy="663.58" r="2.8"/></g>
<g id="n24-1"><circle cx="479.9" cy="663.58" r="2.8"/></g>
<g id="n24-2"><circle cx="516.2" cy="663.58" r="2.8"/></g>
<g id="n24-3"><circle cx="552.5" cy="663.58" r="2.8"/></g>
<g id="n24-4"><circle cx="588.8" cy="663.58" r="2.8"/></g>
<g id="n25-0"><circle cx="461.75" cy="690.8" r="2.8"/></g>
<g id="n25-1"><circle cx="498.05" cy="690.8" r="2.8"/></g>
<g id="n25-2"><circle cx="534.35" cy="690.8" r="2.8"/></g>
<g id="n25-3"><circle cx="570.65" cy="690.8" r="2.8"/></g>
<g id="n26-0"><circle cx="479.9" cy="718.02" r="2.8"/></g>
<g id="n26-1"><circle cx="516.2" cy="718.02" r="2.8"/></g>
<g id="n26-2"><circle cx="552.5" cy="718.02" r="2.8"/></g>
<g id="n27-0"><circle cx="498.05" cy="745.24" r="2.8"/></g>
<g id="n27-1"><circle cx="534.35" cy="745.24" r="2.8"/></g>
<g id="n28-0"><circle cx="516.2" cy="772.46" r="2.8"/></g>
</g>
</svg>
